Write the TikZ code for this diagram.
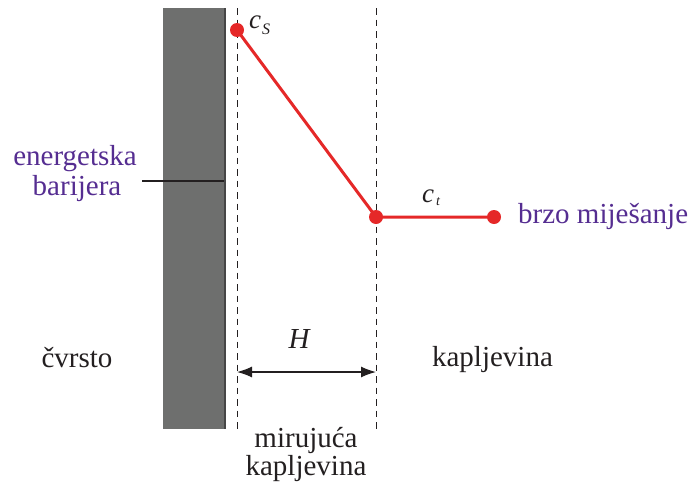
\documentclass[tikz,border=0pt]{standalone}
\usepackage{fontspec}
\setmainfont{LiberationSerif}[Extension=.ttf,UprightFont=*-Regular,ItalicFont=*-Italic,BoldFont=*-Bold,BoldItalicFont=*-BoldItalic]
\usetikzlibrary{arrows.meta}
\definecolor{barrier}{RGB}{110,111,110}
\definecolor{barrierdark}{RGB}{70,70,70}
\definecolor{purp}{RGB}{85,45,145}
\definecolor{redc}{RGB}{229,40,40}
\definecolor{txt}{RGB}{35,31,32}
\begin{document}
\begin{tikzpicture}[x=1pt,y=-1pt,
  lbl/.style={inner sep=0pt,font=\fontsize{29}{30}\selectfont,text=txt},
  plbl/.style={lbl,text=purp},
  sym/.style={inner sep=0pt,anchor=base west,text=txt},
  dot/.style={circle,fill=redc,inner sep=0pt,minimum size=14pt},
  guide/.style={dash pattern=on 6.5pt off 5pt,line width=1pt,draw=txt},
  conc/.style={line width=3pt,draw=redc},
  dim/.style={{Latex[length=15pt,width=11pt]}-{Latex[length=15pt,width=11pt]},line width=1.3pt,draw=txt},
  leader/.style={line width=1.2pt,draw=txt}]
\useasboundingbox (0,0) rectangle (692,490);
% solid wall
\fill[barrier] (163,8) rectangle (226,429);
\draw[line width=2pt,barrierdark] (224.5,8) -- (224.5,429);
% boundary-layer guides
\coordinate (g1t) at (237,8);
\coordinate (g1b) at (237,429);
\coordinate (g2t) at (376,8);
\coordinate (g2b) at (376,429);
\draw[guide] (g1t) -- (g1b);
\draw[guide] (g2t) -- (g2b);
% concentration profile
\node[dot] (s) at (237,30) {};
\node[dot] (m) at (376,217) {};
\node[dot] (e) at (494,217) {};
\draw[conc] (s.center) -- (m.center) -- (e.center);
% symbols
\node[sym,font=\fontsize{27}{27}\selectfont\itshape] (cs) at (249,28) {c};
\node[sym,font=\fontsize{16}{16}\selectfont\itshape] (csub) at (262,34) {S};
\node[sym,font=\fontsize{27}{27}\selectfont\itshape] (ct) at (422,202) {c};
\node[sym,font=\fontsize{14}{14}\selectfont\itshape] (ctsub) at (436,205) {t};
% H dimension
\coordinate (aL) at (237,372);
\coordinate (aR) at (376,372);
\draw[dim] (aL) -- (aR);
\node[inner sep=0pt,anchor=base,text=txt,font=\fontsize{29}{29}\selectfont\itshape] (H) at (299,348) {H};
% energy barrier leader
\coordinate (b1) at (142,181);
\coordinate (b2) at (224,181);
\draw[leader] (b1) -- (b2);
% labels
\node[plbl,anchor=base] (en1) at (75,165) {energetska};
\node[plbl,anchor=base] (en2) at (77,195) {barijera};
\node[plbl,anchor=base west] (bm) at (518,223) {brzo miješanje};
\node[lbl,anchor=base] (cv) at (77,367) {čvrsto};
\node[lbl,anchor=base] (kap) at (492.5,366) {kapljevina};
\node[lbl,anchor=base] (mir1) at (306,447) {mirujuća};
\node[lbl,anchor=base] (mir2) at (306,475) {kapljevina};
\end{tikzpicture}
\end{document}
